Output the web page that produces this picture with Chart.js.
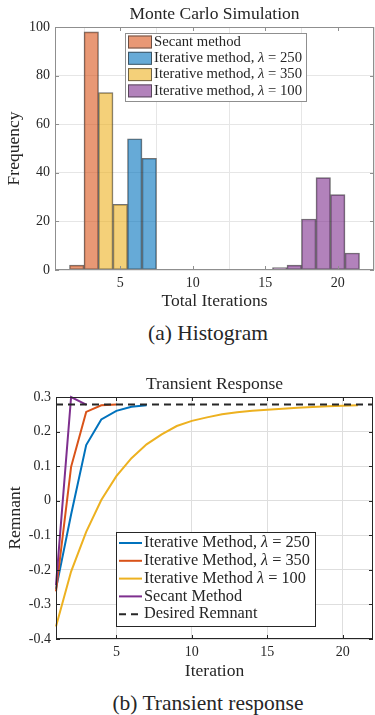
<!DOCTYPE html>
<html>
<head>
<meta charset="utf-8">
<script src="https://cdn.jsdelivr.net/npm/chart.js@4.4.1/dist/chart.umd.min.js"></script>
<style>
  body { margin: 0; background: #fff; width: 375px; height: 715px; position: relative; overflow: hidden;
         font-family: 'Liberation Serif', 'Times New Roman', serif; color: #262626; }
  canvas { position: absolute; left: 0; }
  #histCanvas { top: 0; }
  #respCanvas { top: 370px; }
  .caption { position: absolute; left: 58px; width: 300px; text-align: center; font-size: 21.5px; line-height: 26px; }
</style>
</head>
<body>
<canvas id="histCanvas" width="375" height="312"></canvas>
<div class="caption" style="top:320px">(a) Histogram</div>
<canvas id="respCanvas" width="375" height="312"></canvas>
<div class="caption" style="top:690px">(b) Transient response</div>
<script>
const SERIF = "'Liberation Serif', 'Times New Roman', serif";
const TEXT = "#262626";

// Histogram: bin centres and counts per method
const secantBins = [2, 3];
const secantCounts = [2, 98];
const iter250Bins = [6, 7];
const iter250Counts = [54, 46];
const iter350Bins = [4, 5];
const iter350Counts = [73, 27];
const iter100Bins = [16, 17, 18, 19, 20, 21];
const iter100Counts = [1, 2, 21, 38, 31, 7];
const histXTicks = [5, 10, 15, 20];
const histYTicks = [0, 20, 40, 60, 80, 100];

// Transient response: remnant per iteration
const iterations = [1, 2, 3, 4, 5, 6, 7, 8, 9, 10, 11, 12, 13, 14, 15, 16, 17, 18, 19, 20, 21, 22];
const remnant250 = [-0.255, -0.04, 0.161, 0.235, 0.260, 0.272, 0.276];
const remnant350 = [-0.262, 0.098, 0.257, 0.276, 0.278];
const remnant100 = [-0.364, -0.205, -0.09, 0.002, 0.071, 0.123, 0.163, 0.192, 0.216, 0.231, 0.241,
                    0.250, 0.256, 0.260, 0.263, 0.266, 0.269, 0.271, 0.273, 0.275, 0.276];
const remnantSecant = [-0.244, 0.300, 0.278];
const desiredRemnant = 0.278;
const respXTicks = [5, 10, 15, 20];
const respYTicks = [-0.4, -0.3, -0.2, -0.1, 0, 0.1, 0.2, 0.3];

function pairs(xs, ys) {
  return ys.map((y, i) => ({ x: xs[i], y: y }));
}

function fixedTicks(values) {
  return function (scale) {
    scale.ticks = values.map(v => ({ value: v }));
  };
}

// box round the plot area with MATLAB style inward ticks
const framePlugin = {
  id: "frame",
  afterDatasetsDraw(chart, args, opts) {
    const { ctx, chartArea: a, scales } = chart;
    const L = opts.tick || 4;
    ctx.save();
    ctx.strokeStyle = opts.color;
    ctx.lineWidth = 1;
    ctx.beginPath();
    scales.x.ticks.forEach(t => {
      const px = Math.round(scales.x.getPixelForValue(t.value)) + 0.5;
      ctx.moveTo(px, a.bottom); ctx.lineTo(px, a.bottom - L);
      ctx.moveTo(px, a.top); ctx.lineTo(px, a.top + L);
    });
    scales.y.ticks.forEach(t => {
      const py = Math.round(scales.y.getPixelForValue(t.value)) + 0.5;
      ctx.moveTo(a.left, py); ctx.lineTo(a.left + L, py);
      ctx.moveTo(a.right, py); ctx.lineTo(a.right - L, py);
    });
    ctx.stroke();
    ctx.strokeRect(Math.round(a.left) + 0.5, Math.round(a.top) + 0.5,
                   Math.round(a.right - a.left) - 1, Math.round(a.bottom - a.top) - 1);
    ctx.restore();
  }
};

// legend drawn inside the plot, labels taken from the datasets
const boxLegend = {
  id: "boxLegend",
  afterDraw(chart, args, o) {
    if (!o || !o.w) return;
    const ctx = chart.ctx;
    ctx.save();
    ctx.fillStyle = "#fff";
    ctx.fillRect(o.x, o.y, o.w, o.h);
    ctx.strokeStyle = o.border;
    ctx.lineWidth = 1;
    ctx.strokeRect(o.x + 0.5, o.y + 0.5, o.w, o.h);
    chart.data.datasets.forEach((ds, i) => {
      const cy = o.firstY + i * o.rowH;
      if (o.kind === "patch") {
        ctx.fillStyle = "#fff";
        ctx.fillRect(o.sampleX, cy - o.patchH / 2, o.sampleW, o.patchH);
        ctx.fillStyle = ds.backgroundColor;
        ctx.fillRect(o.sampleX, cy - o.patchH / 2, o.sampleW, o.patchH);
        ctx.strokeStyle = ds.borderColor;
        ctx.strokeRect(o.sampleX + 0.5, cy - o.patchH / 2 + 0.5, o.sampleW - 1, o.patchH - 1);
      } else {
        ctx.strokeStyle = ds.borderColor;
        ctx.lineWidth = ds.borderWidth;
        ctx.setLineDash(ds.borderDash || []);
        ctx.beginPath();
        ctx.moveTo(o.sampleX, cy);
        ctx.lineTo(o.sampleX + o.sampleW, cy);
        ctx.stroke();
        ctx.setLineDash([]);
      }
      ctx.fillStyle = TEXT;
      ctx.textBaseline = "middle";
      ctx.textAlign = "left";
      let tx = o.textX;
      const parts = ds.label.split("λ");
      parts.forEach((p, k) => {
        ctx.font = o.fontSize + "px " + SERIF;
        ctx.fillText(p, tx, cy);
        tx += ctx.measureText(p).width;
        if (k < parts.length - 1) {
          ctx.font = "italic " + o.fontSize + "px " + SERIF;
          ctx.fillText("λ", tx, cy);
          tx += ctx.measureText("λ").width;
        }
      });
    });
    ctx.restore();
  }
};

Chart.register(framePlugin, boxLegend);

function axisFont(size) {
  return { family: SERIF, size: size };
}

function buildHistogram() {
  const ctx = document.getElementById("histCanvas").getContext("2d");
  const edge = "rgba(40, 40, 40, 0.65)";
  const barStyle = { borderColor: edge, borderWidth: 1, borderSkipped: false,
                     barPercentage: 1, categoryPercentage: 1 };
  new Chart(ctx, {
    type: "bar",
    data: {
      datasets: [
        Object.assign({ label: "Secant method", data: pairs(secantBins, secantCounts),
          backgroundColor: "rgba(217, 83, 25, 0.6)" }, barStyle),
        Object.assign({ label: "Iterative method, λ = 250", data: pairs(iter250Bins, iter250Counts),
          backgroundColor: "rgba(0, 114, 189, 0.6)" }, barStyle),
        Object.assign({ label: "Iterative method, λ = 350", data: pairs(iter350Bins, iter350Counts),
          backgroundColor: "rgba(237, 177, 32, 0.6)" }, barStyle),
        Object.assign({ label: "Iterative method, λ = 100", data: pairs(iter100Bins, iter100Counts),
          backgroundColor: "rgba(126, 47, 142, 0.6)" }, barStyle)
      ]
    },
    options: {
      responsive: false,
      animation: false,
      grouped: false,
      layout: { padding: { left: 0, right: 1, top: 0, bottom: 0 } },
      scales: {
        x: {
          type: "linear", min: 0.5, max: 22.5, offset: false,
          afterBuildTicks: fixedTicks(histXTicks),
          afterFit(scale) { scale.height = 42; },
          grid: { color: "#e6e6e6", drawTicks: false },
          border: { display: false },
          ticks: { color: TEXT, font: axisFont(14), padding: 5, maxRotation: 0 },
          title: { display: true, text: "Total Iterations", color: TEXT, font: axisFont(17.5),
                   padding: { top: 0, bottom: 0 } }
        },
        y: {
          min: 0, max: 100,
          afterBuildTicks: fixedTicks(histYTicks),
          afterFit(scale) { scale.width = 55; },
          grid: { color: "#e6e6e6", drawTicks: false },
          border: { display: false },
          ticks: { color: TEXT, font: axisFont(14), padding: 5 },
          title: { display: true, text: "Frequency", color: TEXT, font: axisFont(17.5),
                   padding: { top: 4, bottom: 0 } }
        }
      },
      plugins: {
        legend: { display: false },
        tooltip: { enabled: false },
        title: { display: true, text: "Monte Carlo Simulation", fullSize: false, color: TEXT,
                 font: { family: SERIF, size: 17.5, weight: "normal" }, padding: { top: 4, bottom: 2 } },
        frame: { color: "#8f8f8f", tick: 4 },
        boxLegend: { kind: "patch", x: 125, y: 33, w: 181, h: 68, border: "#8f8f8f",
                     firstY: 42, rowH: 16.3, sampleX: 128, sampleW: 24, patchH: 13,
                     textX: 154, fontSize: 14.7 }
      }
    }
  });
}

function buildResponse() {
  const ctx = document.getElementById("respCanvas").getContext("2d");
  const line = { pointRadius: 0, borderWidth: 2, tension: 0, fill: false, clip: false };
  new Chart(ctx, {
    type: "line",
    data: {
      datasets: [
        Object.assign({ label: "Iterative Method, λ = 250", data: pairs(iterations, remnant250),
          borderColor: "#0072BD", order: 4 }, line),
        Object.assign({ label: "Iterative Method, λ = 350", data: pairs(iterations, remnant350),
          borderColor: "#D95319", order: 3 }, line),
        Object.assign({ label: "Iterative Method λ = 100", data: pairs(iterations, remnant100),
          borderColor: "#EDB120", order: 2 }, line),
        Object.assign({ label: "Secant Method", data: pairs(iterations, remnantSecant),
          borderColor: "#7E2F8E", order: 1 }, line),
        Object.assign({ label: "Desired Remnant",
          data: [{ x: iterations[0], y: desiredRemnant }, { x: iterations[iterations.length - 1], y: desiredRemnant }],
          borderColor: "#262626", borderDash: [7, 5], order: 0 }, line)
      ]
    },
    options: {
      responsive: false,
      animation: false,
      layout: { padding: { left: 0, right: 2, top: 0, bottom: 0 } },
      scales: {
        x: {
          type: "linear", min: 1, max: 22,
          afterBuildTicks: fixedTicks(respXTicks),
          afterFit(scale) { scale.height = 43; },
          grid: { color: "#dedede", drawTicks: false },
          border: { display: false },
          ticks: { color: TEXT, font: axisFont(14), padding: 5, maxRotation: 0 },
          title: { display: true, text: "Iteration", color: TEXT, font: axisFont(17.5),
                   padding: { top: 0, bottom: 0 } }
        },
        y: {
          min: -0.4, max: 0.3,
          afterBuildTicks: fixedTicks(respYTicks),
          afterFit(scale) { scale.width = 56; },
          grid: { color: "#dedede", drawTicks: false },
          border: { display: false },
          ticks: { color: TEXT, font: axisFont(14), padding: 5,
                   callback: v => (Math.abs(v) < 1e-9 ? "0" : v.toFixed(1)) },
          title: { display: true, text: "Remnant", color: TEXT, font: axisFont(17.5),
                   padding: { top: 5, bottom: 0 } }
        }
      },
      plugins: {
        legend: { display: false },
        tooltip: { enabled: false },
        title: { display: true, text: "Transient Response", fullSize: false, color: TEXT,
                 font: { family: SERIF, size: 17.5, weight: "normal" }, padding: { top: 4, bottom: 2 } },
        frame: { color: "#262626", tick: 4 },
        boxLegend: { kind: "line", x: 116, y: 162, w: 199, h: 94, border: "#262626",
                     firstY: 173, rowH: 17.8, sampleX: 119, sampleW: 23,
                     textX: 144, fontSize: 16.3 }
      }
    }
  });
}

window.onload = function () {
  buildHistogram();
  buildResponse();
};
</script>
</body>
</html>
